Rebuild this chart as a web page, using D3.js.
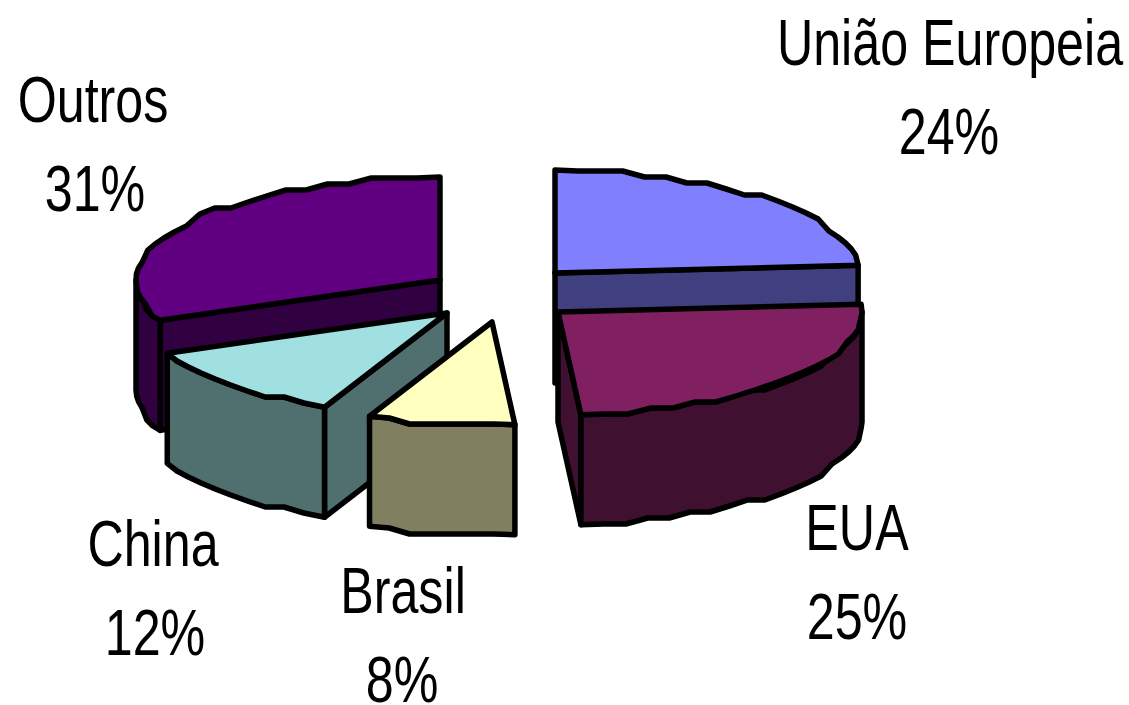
<!DOCTYPE html>
<html><head><meta charset="utf-8">
<script src="https://cdn.jsdelivr.net/npm/d3@7/dist/d3.min.js"></script>
<style>html,body{margin:0;padding:0;background:#fff;overflow:hidden}</style>
</head><body><svg id="c" width="1129" height="705"></svg>
<script>
// Data
const categories = ["União Europeia","EUA","Brasil","China","Outros"];
const shares = [23.8,25,7.8,12,31.4];
const percentLabels = ["24%","25%","8%","12%","31%"];
const topColors = ["#8080ff","#802060","#ffffc0","#a0e0e0","#600080"];
const sideColors = ["#404080","#401030","#808060","#507070","#300040"];

// Layout (exploded slice apex, label anchors)
const apexX = [555,558,492,447,440];
const apexY = [273,312,322,313,280];
const nameX = [950,857,403,153,93];
const pctX = [949,857,402,155,95];
const nameY = [65,550,613,566,122];
const paintOrder = [4,0,1,3,2];
const RX=304, RY=103, DEPTH=110, GY=6, LINE_GAP=89, TEXT_SX=0.785;

const svg=d3.select("#c");
const pie=d3.pie().sort(null).value(d=>d).startAngle(0).endAngle(2*Math.PI);
const arcs=pie(shares);
const px=d3.scaleLinear().domain([-1,1]).range([-RX,RX]);
const py=d3.scaleLinear().domain([-1,1]).range([-RY,RY]);
const line=d3.line().curve(d3.curveLinear);

// Low-resolution rim, as in the source: coarse samples with y snapped to a grid
function rim(i,a0,a1,dy){
  const cx=apexX[i],cy=apexY[i]+dy;
  const n=Math.max(2,Math.ceil((a1-a0)/(Math.PI/40)));
  return d3.range(n+1).map(k=>{
    const a=a0+(a1-a0)*k/n;
    const x=cx+px(Math.sin(a)), y=cy+py(-Math.cos(a));
    if(k===0||k===n) return [x,y];
    return [x, cy+Math.round((y-cy)/GY)*GY];
  });
}
function poly(pts,fill){
  svg.append("path").attr("d",line(pts)+"Z").attr("fill",fill)
    .attr("stroke","#000").attr("stroke-width",5.5).attr("stroke-linejoin","round");
}
function cutWall(i,a){
  const cx=apexX[i],cy=apexY[i];
  const x=cx+px(Math.sin(a)),y=cy+py(-Math.cos(a));
  poly([[cx,cy],[x,y],[x,y+DEPTH],[cx,cy+DEPTH]],sideColors[i]);
}
paintOrder.forEach(i=>{
  const {startAngle:a0,endAngle:a1}=arcs[i];
  if(Math.sin(a0)<-1e-6) cutWall(i,a0);
  if(Math.sin(a1)>1e-6) cutWall(i,a1);
  const f0=Math.max(a0,Math.PI/2), f1=Math.min(a1,3*Math.PI/2);
  if(f1>f0) poly(rim(i,f0,f1,0).concat(rim(i,f0,f1,DEPTH).reverse()),sideColors[i]);
  poly([[apexX[i],apexY[i]]].concat(rim(i,a0,a1,0)),topColors[i]);
});

categories.forEach((c,i)=>{
  const put=(s,x,y)=>svg.append("text").attr("font-family","'Liberation Sans',sans-serif")
    .attr("font-size",64).attr("text-anchor","middle").attr("fill","#000")
    .attr("transform",`translate(${x},${y}) scale(${TEXT_SX},1)`).text(s);
  put(c,nameX[i],nameY[i]);
  put(percentLabels[i],pctX[i],nameY[i]+LINE_GAP);
});
</script></body></html>
